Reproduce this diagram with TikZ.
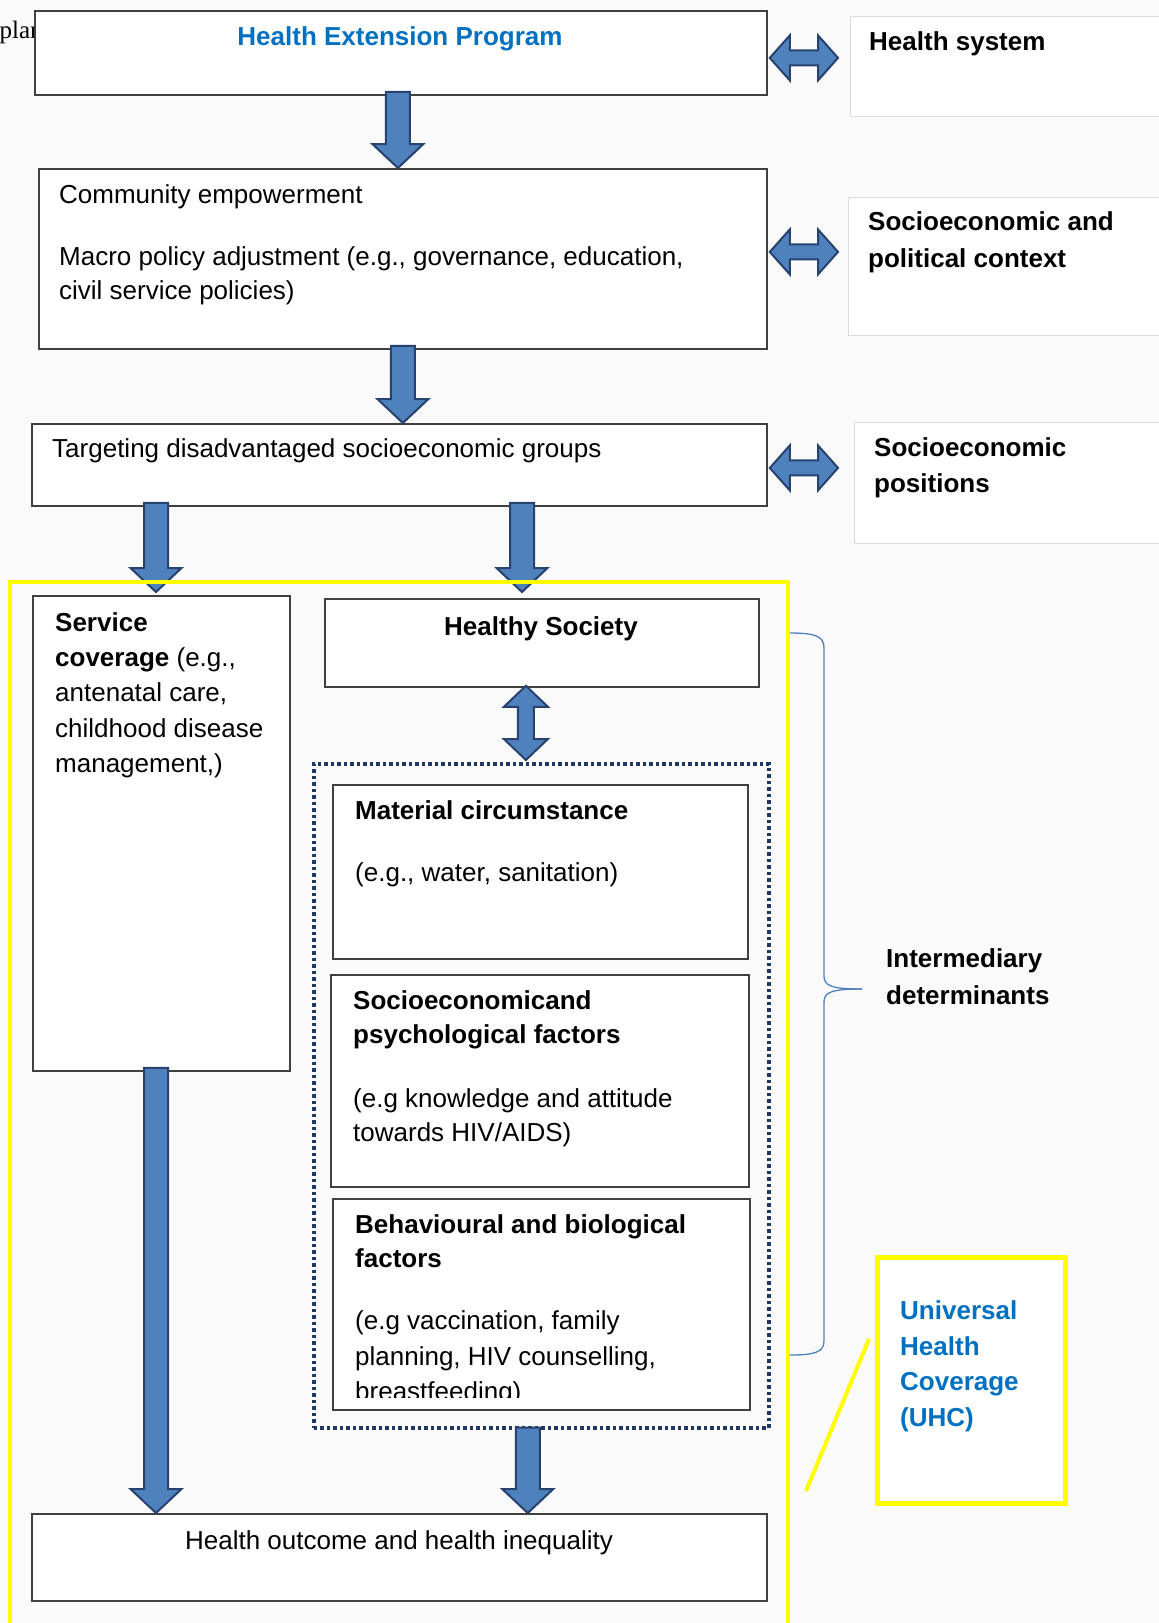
\documentclass[tikz,border=0pt]{standalone}
\usepackage{fontspec}
\setmainfont{Liberation Sans}
\newfontfamily\serifface{Liberation Serif}
\usetikzlibrary{calc}
\definecolor{bgc}{RGB}{250,250,250}
\definecolor{txtblue}{RGB}{0,112,192}
\definecolor{arrfill}{RGB}{79,129,189}
\definecolor{arrdraw}{RGB}{40,66,112}
\definecolor{boxline}{RGB}{64,64,64}
\definecolor{lightline}{RGB}{220,220,220}
\definecolor{dotnavy}{RGB}{31,56,100}
\definecolor{bracecol}{RGB}{79,129,189}
\definecolor{yel}{RGB}{255,255,0}
\tikzset{
 mainbox/.style={draw=boxline, line width=1.8pt, fill=white, inner sep=0pt, anchor=north west},
 sidebox/.style={draw=lightline, line width=1.2pt, fill=white, inner sep=0pt, anchor=north west},
 txt/.style={inner sep=0pt, anchor=base west, font=\fontsize{26}{34}\selectfont},
 btxt/.style={inner sep=0pt, anchor=base west, font=\fontsize{26}{34}\selectfont\bfseries},
 blk/.style={fill=arrfill, draw=arrdraw, line width=2pt, line join=miter},
 dotbox/.style={draw=dotnavy, line width=3.5pt, dash pattern=on 3.5pt off 3pt, inner sep=0pt, anchor=north west},
 yframe/.style={draw=yel, line width=4pt, inner sep=0pt, anchor=north west},
 bracestyle/.style={draw=bracecol, line width=1.3pt},
}
\newcommand{\blkdown}[2]{%
 \path[blk] let \p1=(#1), \p2=(#2) in
 (\x1-12pt,\y1) -- (\x1+12pt,\y1) -- (\x1+12pt,\y2+24pt) -- (\x1+25.5pt,\y2+24pt) -- (\x1,\y2) -- (\x1-25.5pt,\y2+24pt) -- (\x1-12pt,\y2+24pt) -- cycle;}
\newcommand{\blkvboth}[2]{%
 \path[blk] let \p1=(#1), \p2=(#2) in
 (\x1,\y1) -- (\x1+22pt,\y1-21pt) -- (\x1+8pt,\y1-21pt) -- (\x1+8pt,\y2+21pt) -- (\x1+22pt,\y2+21pt) -- (\x1,\y2) -- (\x1-22pt,\y2+21pt) -- (\x1-8pt,\y2+21pt) -- (\x1-8pt,\y1-21pt) -- (\x1-22pt,\y1-21pt) -- cycle;}
\newcommand{\blkhboth}[2]{%
 \path[blk] let \p1=(#1), \p2=(#2) in
 (\x1,\y1) -- (\x1+20pt,\y1+22.5pt) -- (\x1+20pt,\y1+7.5pt) -- (\x2-20pt,\y1+7.5pt) -- (\x2-20pt,\y1+22.5pt) -- (\x2,\y1) -- (\x2-20pt,\y1-22.5pt) -- (\x2-20pt,\y1-7.5pt) -- (\x1+20pt,\y1-7.5pt) -- (\x1+20pt,\y1-22.5pt) -- cycle;}
\begin{document}
\begin{tikzpicture}[x=1pt,y=-1pt]
\fill[bgc] (0,0) rectangle (1159,1623);
\useasboundingbox (0,0) rectangle (1159,1623);

% cut-off text at top left
\node[txt, font=\fontsize{25}{34}\serifface] (plan) at (-0.5,38) {plan};

% main column boxes
\node[mainbox, minimum width=732pt, minimum height=84pt] (hep) at (34,10) {};
\node[btxt, anchor=base, text=txtblue] (heptxt) at (400,45) {Health Extension Program};

\node[mainbox, minimum width=728pt, minimum height=180pt] (ce) at (38,168) {};
\node[txt] (ce1) at (59,203) {Community empowerment};
\node[txt] (ce2) at (59,265) {Macro policy adjustment (e.g., governance, education,};
\node[txt] (ce3) at (59,299) {civil service policies)};

\node[mainbox, minimum width=735pt, minimum height=82pt] (tdsg) at (31,423) {};
\node[txt] (tdsg1) at (52,457) {Targeting disadvantaged socioeconomic groups};

\node[mainbox, minimum width=257pt, minimum height=475pt] (sc) at (32,595) {};
\node[btxt] (sc1) at (55,631) {Service};
\node[txt] (sc2) at (55,666) {\textbf{coverage} (e.g.,};
\node[txt] (sc3) at (55,701) {antenatal care,};
\node[txt] (sc4) at (55,737) {childhood disease};
\node[txt] (sc5) at (55,772) {management,)};

\node[mainbox, minimum width=434pt, minimum height=88pt] (hs) at (324,598) {};
\node[btxt, anchor=base] (hs1) at (541,635) {Healthy Society};

\node[dotbox, minimum width=455pt, minimum height=664pt] (dot) at (312,762) {};

\node[mainbox, minimum width=415pt, minimum height=174pt] (mc) at (332,784) {};
\node[btxt] (mc1) at (355,819) {Material circumstance};
\node[txt] (mc2) at (355,881) {(e.g., water, sanitation)};

\node[mainbox, minimum width=418pt, minimum height=212pt] (spf) at (330,974) {};
\node[btxt] (spf1) at (353,1009) {Socioeconomicand};
\node[btxt] (spf2) at (353,1043) {psychological factors};
\node[txt] (spf3) at (353,1107) {(e.g knowledge and attitude};
\node[txt] (spf4) at (353,1141) {towards HIV/AIDS)};

\node[mainbox, minimum width=417pt, minimum height=211pt] (bbf) at (332,1198) {};
\node[btxt] (bbf1) at (355,1233) {Behavioural and biological};
\node[btxt] (bbf2) at (355,1267) {factors};
\node[txt] (bbf3) at (355,1329) {(e.g vaccination, family};
\node[txt] (bbf4) at (355,1365) {planning, HIV counselling,};
\begin{scope}
\clip (bbf.north west) rectangle ([yshift=13pt]bbf.south east);
\node[txt] (bbf5) at (355,1400) {breastfeeding)};
\end{scope}

\node[mainbox, minimum width=735pt, minimum height=87pt] (hohi) at (31,1513) {};
\node[txt, anchor=base] (hohi1) at (399,1549) {Health outcome and health inequality};

% side boxes
\node[sidebox, minimum width=330pt, minimum height=100pt] (hsys) at (850,16) {};
\node[btxt] (hsys1) at (869,50) {Health system};
\node[sidebox, minimum width=330pt, minimum height=138pt] (spc) at (848,197) {};
\node[btxt] (spc1) at (868,230) {Socioeconomic and};
\node[btxt] (spc2) at (868,267) {political context};
\node[sidebox, minimum width=330pt, minimum height=121pt] (sep) at (854,422) {};
\node[btxt] (sep1) at (874,456) {Socioeconomic};
\node[btxt] (sep2) at (874,492) {positions};

% block arrows
\blkdown{[xshift=-3pt,yshift=4pt]hep.south}{ce.north}
\blkdown{[yshift=4pt]ce.south}{tdsg.north}
\blkdown{[xshift=125pt,yshift=4pt]tdsg.south west}{[yshift=3pt]sc.north}
\blkdown{[xshift=491pt,yshift=4pt]tdsg.south west}{[yshift=6pt]hs.north}
\blkdown{[xshift=124pt,yshift=4pt]sc.south west}{hohi.north}
\blkdown{[xshift=-13.5pt,yshift=2pt]dot.south}{hohi.north}
\blkvboth{[xshift=-16pt,yshift=2pt]hs.south}{[yshift=2pt]dot.north}
\blkhboth{[xshift=2pt,yshift=-5pt]hep.east}{[xshift=-12pt]hsys.west}
\blkhboth{[xshift=2pt,yshift=7pt]ce.east}{[xshift=-10pt]spc.west}
\blkhboth{[xshift=2pt,yshift=-3pt]tdsg.east}{[xshift=-16pt]sep.west}

% yellow frame
\node[yframe, minimum width=778pt, minimum height=1070pt] (frame) at (8,580) {};

% brace and intermediary determinants
\draw[bracestyle] (790,633) .. controls (815,633) and (824,636) .. (824,648) -- (824,976) .. controls (824,986) and (832,989) .. (862,989);
\draw[bracestyle] (862,989) .. controls (832,989) and (824,992) .. (824,1002) -- (824,1341) .. controls (824,1352) and (815,1355) .. (790,1355);
\node[btxt] (id1) at (886,967) {Intermediary};
\node[btxt] (id2) at (886,1004) {determinants};

% UHC
\node[draw=yel, line width=5pt, fill=white, inner sep=0pt, anchor=north west, minimum width=188pt, minimum height=246pt] (uhc) at (875,1255) {};
\node[btxt, text=txtblue] (uhc1) at (900,1319) {Universal};
\node[btxt, text=txtblue] (uhc2) at (900,1355) {Health};
\node[btxt, text=txtblue] (uhc3) at (900,1390) {Coverage};
\node[btxt, text=txtblue] (uhc4) at (900,1426) {(UHC)};
\coordinate (yl1) at (869,1339);
\coordinate (yl2) at (806,1491);
\draw[yel, line width=4pt] (yl1) -- (yl2);
\end{tikzpicture}
\end{document}
